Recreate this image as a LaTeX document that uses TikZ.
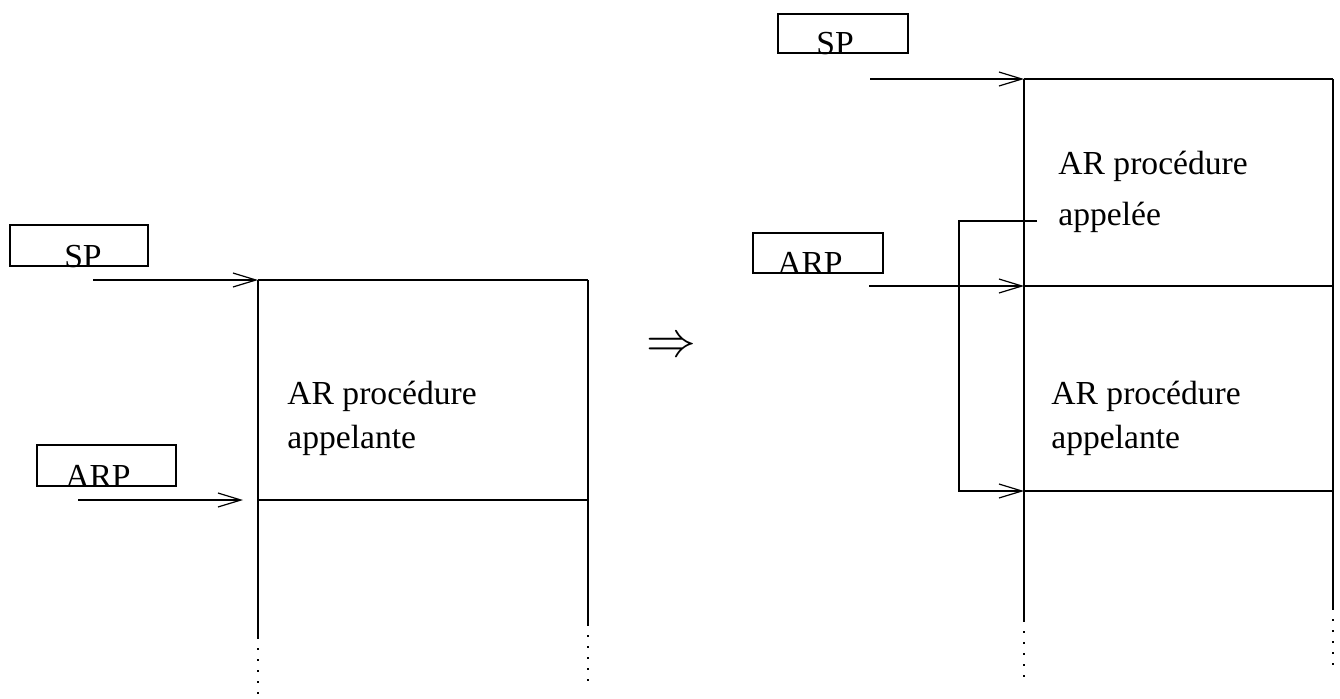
\documentclass[tikz,border=0pt]{standalone}
\usepackage{fontspec}
\setmainfont{Liberation Serif}
\usetikzlibrary{arrows.meta}
\begin{document}
\begin{tikzpicture}[x=0.5pt,y=-0.5pt,
  ln/.style={line width=0.55pt},
  arr/.style={ln,-{Straight Barb[length=11.5pt,width=7pt,line width=0.6pt]}},
  dots/.style={line width=0.9pt,dash pattern=on 0.9pt off 4.6pt},
  regbox/.style={draw,ln,inner sep=0,minimum width=#1},
  regbox/.default=69pt,
  lbl/.style={inner sep=0,font=\fontsize{16.8}{20}\selectfont}]
\useasboundingbox (0,0) rectangle (1340,698);

% ---------------- left: before the call ----------------
\node[regbox=69pt,minimum height=20.5pt] (spL) at (79,245.5) {};
\node[lbl,anchor=base] (spLt) at (83,267) {SP};
\node[regbox=69.5pt,minimum height=20.5pt] (arpL) at (106.5,465.5) {};
\node[lbl,anchor=base] (arpLt) at (98,487) {ARP};

\coordinate (spLs) at (93,280);
\coordinate (arpLs) at (78,500);
\coordinate (arpLe) at (243,500);
\coordinate (lTL) at (258,280);
\coordinate (lTR) at (588,280);
\coordinate (lML) at (258,500);
\coordinate (lMR) at (588,500);
\coordinate (lLs) at (258,637);
\coordinate (lLd) at (258,698);
\coordinate (lRs) at (588,624);
\coordinate (lRd) at (588,683);

\draw[ln] (lTL) -- (lTR);
\draw[ln] (lML) -- (lMR);
\draw[ln] (lTL) -- (lLs);
\draw[dots] (lLs) -- (lLd);
\draw[ln] (lTR) -- (lRs);
\draw[dots] (lRs) -- (lRd);
\draw[arr] (spLs) -- (lTL);
\draw[arr] (arpLs) -- (arpLe);

\node[lbl,anchor=base west] (tL1) at (287,404) {AR procédure};
\node[lbl,anchor=base west] (tL2) at (287,448) {appelante};

% ---------------- implies ----------------
\node[inner sep=0,font=\fontsize{27}{32}\selectfont] (impl) at (671,347) {$\Rightarrow$};

% ---------------- right: after the call ----------------
\node[regbox=65pt,minimum height=19.5pt] (spR) at (843,33.5) {};
\node[lbl,anchor=base] (spRt) at (835,54) {SP};
\node[regbox=65pt,minimum height=20pt] (arpR) at (818,253) {};
\node[lbl,anchor=base] (arpRt) at (810,274) {ARP};

\coordinate (spRs) at (870,79);
\coordinate (arpRs) at (869,286);
\coordinate (rTL) at (1024,79);
\coordinate (rTR) at (1333,79);
\coordinate (rML) at (1024,286);
\coordinate (rMR) at (1333,286);
\coordinate (rBL) at (1024,491);
\coordinate (rBR) at (1333,491);
\coordinate (rLs) at (1024,620);
\coordinate (rLd) at (1024,679);
\coordinate (rRs) at (1333,608);
\coordinate (rRd) at (1333,665);
\coordinate (lp1) at (1037,221);
\coordinate (lp2) at (959,221);
\coordinate (lp3) at (959,491);

\draw[ln] (rTL) -- (rTR);
\draw[ln] (rML) -- (rMR);
\draw[ln] (rBL) -- (rBR);
\draw[ln] (rTL) -- (rLs);
\draw[dots] (rLs) -- (rLd);
\draw[ln] (rTR) -- (rRs);
\draw[dots] (rRs) -- (rRd);
\draw[arr] (spRs) -- (rTL);
\draw[arr] (arpRs) -- (rML);
\draw[arr] (lp1) -- (lp2) -- (lp3) -- (rBL);

\node[lbl,anchor=base west] (tR1) at (1058,174) {AR procédure};
\node[lbl,anchor=base west] (tR2) at (1058,225) {appelée};
\node[lbl,anchor=base west] (tR3) at (1051,404) {AR procédure};
\node[lbl,anchor=base west] (tR4) at (1051,448) {appelante};
\end{tikzpicture}
\end{document}
